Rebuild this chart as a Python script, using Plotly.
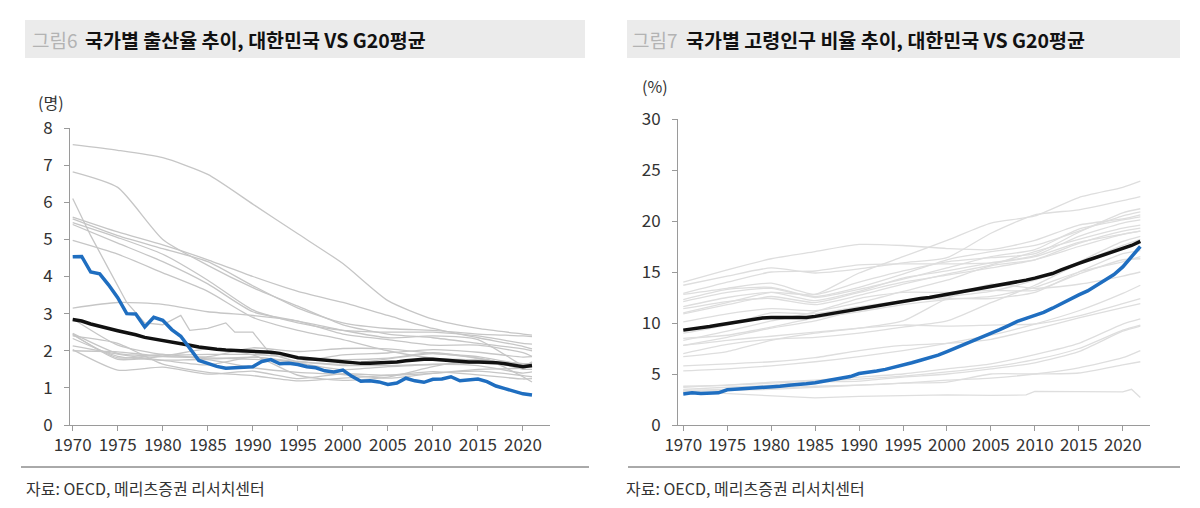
import plotly.graph_objects as go

# ---------------- Left chart: total fertility rate ----------------
KOR_YEARS = list(range(1970, 2022))
KOR_TFR = [4.53, 4.54, 4.12, 4.07, 3.77, 3.43, 3.00, 2.99, 2.64, 2.90,
           2.82, 2.57, 2.39, 2.06, 1.74, 1.66, 1.58, 1.53, 1.55, 1.56,
           1.57, 1.71, 1.76, 1.65, 1.66, 1.63, 1.57, 1.54, 1.46, 1.43,
           1.48, 1.31, 1.18, 1.19, 1.16, 1.09, 1.13, 1.26, 1.19, 1.15,
           1.23, 1.24, 1.30, 1.19, 1.21, 1.24, 1.17, 1.05, 0.98, 0.92,
           0.84, 0.81]
G20_TFR = [2.84, 2.80, 2.72, 2.65, 2.60, 2.54, 2.49, 2.43, 2.36, 2.32,
           2.29, 2.24, 2.19, 2.15, 2.10, 2.06, 2.04, 2.02, 2.01, 2.00,
           2.00, 1.98, 1.96, 1.93, 1.87, 1.81, 1.79, 1.77, 1.74, 1.71,
           1.70, 1.69, 1.66, 1.66, 1.67, 1.68, 1.70, 1.73, 1.76, 1.77,
           1.77, 1.75, 1.72, 1.71, 1.70, 1.70, 1.70, 1.68, 1.65, 1.62,
           1.57, 1.60]

L_YEARS = [1970, 1975, 1980, 1985, 1990, 1995, 2000, 2005, 2010, 2015, 2020, 2021]
SAU_TFR = [7.55, 7.40, 7.20, 6.75, 5.95, 5.15, 4.35, 3.35, 2.85, 2.60, 2.45, 2.42]
MEX_TFR = [6.82, 6.40, 5.00, 4.30, 3.70, 3.20, 2.70, 2.45, 2.35, 2.20, 2.05, 2.00]
IND_TFR = [5.60, 5.20, 4.85, 4.45, 4.00, 3.60, 3.30, 2.95, 2.60, 2.35, 2.12, 2.05]
ZAF_TFR = [5.55, 5.10, 4.75, 4.40, 3.75, 3.15, 2.75, 2.60, 2.55, 2.45, 2.40, 2.38]
IDN_TFR = [5.45, 5.05, 4.60, 3.90, 3.10, 2.75, 2.55, 2.50, 2.50, 2.40, 2.20, 2.18]
TUR_TFR = [5.40, 4.90, 4.40, 3.80, 3.05, 2.80, 2.45, 2.30, 2.15, 2.15, 1.95, 1.85]
BRA_TFR = [4.97, 4.60, 4.10, 3.60, 2.90, 2.55, 2.30, 2.00, 1.80, 1.75, 1.65, 1.64]
ARG_TFR = [3.15, 3.30, 3.25, 3.05, 2.95, 2.80, 2.55, 2.35, 2.40, 2.30, 1.60, 1.55]
AUS_TFR = [2.86, 2.15, 1.90, 1.90, 1.90, 1.82, 1.76, 1.80, 1.95, 1.80, 1.58, 1.70]
USA_TFR = [2.45, 1.77, 1.84, 1.84, 2.08, 1.98, 2.06, 2.05, 1.93, 1.84, 1.64, 1.66]
GBR_TFR = [2.43, 1.81, 1.90, 1.78, 1.83, 1.71, 1.64, 1.78, 1.92, 1.80, 1.56, 1.56]
FRA_TFR = [2.47, 1.93, 1.85, 1.81, 1.77, 1.71, 1.89, 1.94, 2.03, 1.96, 1.83, 1.84]
DEU_TFR = [2.03, 1.48, 1.56, 1.37, 1.45, 1.25, 1.38, 1.34, 1.39, 1.50, 1.53, 1.58]
ITA_TFR = [2.40, 2.20, 1.64, 1.42, 1.33, 1.19, 1.26, 1.34, 1.44, 1.35, 1.24, 1.25]
JPN_TFR = [2.13, 1.91, 1.75, 1.76, 1.54, 1.42, 1.36, 1.26, 1.39, 1.45, 1.33, 1.30]
CAN_TFR = [2.33, 1.85, 1.74, 1.62, 1.83, 1.67, 1.49, 1.57, 1.63, 1.60, 1.40, 1.43]
RUS_TFR = [2.00, 1.97, 1.86, 2.05, 1.89, 1.34, 1.20, 1.29, 1.57, 1.78, 1.50, 1.50]

CHN_YEARS = [1970, 1972, 1974, 1976, 1978, 1980, 1982, 1983, 1985, 1987, 1988,
             1990, 1991, 1992, 1995, 2000, 2005, 2010, 2015, 2016, 2018, 2020, 2021]
CHN_TFR = [6.10, 5.10, 4.20, 3.30, 2.75, 2.70, 2.95, 2.55, 2.60, 2.75, 2.50,
           2.50, 2.20, 1.90, 1.70, 1.60, 1.60, 1.63, 1.67, 1.77, 1.55, 1.30, 1.16]

LEFT_GRAY = [SAU_TFR, MEX_TFR, IND_TFR, ZAF_TFR, IDN_TFR, TUR_TFR, BRA_TFR,
             ARG_TFR, AUS_TFR, USA_TFR, GBR_TFR, FRA_TFR, DEU_TFR, ITA_TFR,
             JPN_TFR, CAN_TFR, RUS_TFR]

# ---------------- Right chart: share of population aged 65+ ----------------
KOR_OLD_YEARS = list(range(1970, 2023))
KOR_OLD = [3.05, 3.15, 3.10, 3.10, 3.15, 3.45, 3.50, 3.55, 3.60, 3.65,
           3.75, 3.80, 3.90, 3.95, 4.05, 4.15, 4.30, 4.40, 4.55, 4.75,
           5.05, 5.15, 5.30, 5.45, 5.65, 5.85, 6.10, 6.35, 6.60, 6.85,
           7.20, 7.55, 7.90, 8.25, 8.60, 8.95, 9.35, 9.75, 10.15, 10.45,
           10.75, 11.05, 11.45, 11.90, 12.35, 12.75, 13.15, 13.70, 14.20, 14.75,
           15.50, 16.50, 17.50]
G20_OLD = [9.30, 9.40, 9.50, 9.65, 9.80, 9.95, 10.10, 10.25, 10.40, 10.50,
           10.55, 10.55, 10.55, 10.50, 10.55, 10.65, 10.80, 10.95, 11.05, 11.20,
           11.35, 11.50, 11.65, 11.80, 11.95, 12.10, 12.25, 12.40, 12.50, 12.65,
           12.80, 12.95, 13.10, 13.25, 13.40, 13.55, 13.75, 13.85, 14.00, 14.20,
           14.40, 14.60, 14.85, 15.20, 15.55, 15.85, 16.15, 16.45, 16.75, 17.00,
           17.30, 17.60, 18.00]

R_YEARS = [1970, 1975, 1980, 1985, 1990, 1995, 2000, 2005, 2010, 2015, 2020, 2022]
OLD_A = [14.0, 15.2, 16.3, 17.0, 17.7, 17.6, 17.3, 17.2, 18.1, 19.6, 20.2, 20.6]
OLD_B = [13.7, 14.6, 15.4, 14.9, 15.3, 15.9, 16.4, 18.8, 20.6, 21.1, 22.0, 22.4]
OLD_C = [11.0, 12.0, 13.0, 12.8, 14.9, 16.5, 18.1, 19.8, 20.5, 22.3, 23.3, 23.9]
OLD_D = [12.9, 14.0, 15.0, 15.1, 15.7, 15.8, 15.8, 15.9, 16.5, 17.9, 18.7, 19.0]
OLD_E = [12.8, 13.4, 13.9, 12.8, 14.0, 15.1, 16.0, 16.4, 16.8, 18.9, 20.8, 21.2]
OLD_F = [12.3, 13.3, 13.5, 12.6, 13.5, 14.8, 16.2, 17.0, 17.6, 19.0, 20.5, 20.9]
OLD_G = [12.1, 13.0, 13.4, 12.5, 13.3, 14.3, 15.4, 16.5, 17.2, 19.2, 20.1, 20.4]
OLD_H = [11.6, 12.5, 13.0, 12.2, 13.1, 14.4, 15.1, 15.9, 16.6, 18.5, 19.8, 20.1]
OLD_I = [11.4, 12.1, 12.4, 11.8, 12.7, 13.8, 14.8, 15.7, 17.0, 18.2, 19.3, 19.6]
OLD_J = [10.9, 11.8, 12.6, 12.0, 13.0, 14.0, 14.7, 15.4, 16.2, 17.8, 19.0, 19.3]
OLD_K = [10.1, 10.9, 11.4, 11.2, 12.0, 13.1, 14.2, 15.6, 16.2, 17.5, 18.7, 19.0]
OLD_L = [9.0, 9.8, 11.0, 10.9, 11.6, 12.2, 12.4, 12.4, 13.0, 15.0, 16.8, 17.1]
OLD_M = [8.3, 9.2, 10.2, 11.1, 12.4, 13.0, 13.0, 13.2, 13.2, 14.8, 16.2, 16.3]
OLD_N = [7.8, 8.6, 9.5, 10.2, 11.3, 12.1, 12.6, 13.1, 14.2, 16.0, 18.0, 18.5]
OLD_O = [7.0, 7.9, 8.4, 8.6, 9.0, 9.6, 10.2, 12.0, 13.7, 15.8, 17.6, 18.2]
OLD_P = [6.7, 7.2, 8.3, 9.0, 9.5, 10.2, 12.4, 13.8, 13.4, 13.8, 14.6, 15.0]
OLD_Q = [8.5, 8.8, 9.6, 10.5, 11.1, 11.8, 12.3, 12.6, 13.5, 15.0, 16.0, 16.5]
OLD_R = [7.8, 8.3, 8.7, 9.1, 9.5, 9.8, 9.7, 9.8, 9.9, 10.7, 11.9, 12.4]
OLD_S = [5.8, 6.0, 6.2, 6.6, 7.3, 7.8, 8.0, 8.4, 9.4, 10.5, 11.5, 11.9]
OLD_T = [5.3, 5.5, 5.8, 6.2, 6.7, 7.3, 8.0, 8.8, 9.9, 11.2, 12.9, 13.7]
OLD_U = [3.8, 3.9, 4.1, 4.3, 4.5, 4.8, 5.2, 5.7, 6.4, 7.5, 9.3, 9.8]
OLD_V = [3.7, 3.9, 4.2, 4.4, 4.7, 5.0, 5.5, 6.0, 6.9, 8.0, 9.9, 10.4]
OLD_W = [3.5, 3.7, 3.9, 4.2, 4.3, 4.7, 5.0, 5.5, 6.1, 7.2, 9.2, 9.7]
OLD_X = [3.4, 3.5, 3.6, 3.8, 3.9, 4.1, 4.4, 4.6, 5.0, 5.6, 6.6, 7.3]
OLD_Y = [3.3, 3.4, 3.5, 3.7, 3.9, 4.1, 4.2, 5.0, 5.0, 5.1, 5.9, 6.2]

SAU_OLD_YEARS = [1970, 1975, 1980, 1985, 1990, 1995, 2000, 2005, 2009, 2010,
                 2015, 2020, 2021, 2022]
SAU_OLD = [3.30, 3.10, 2.85, 2.65, 2.80, 2.90, 2.95, 2.90, 2.95, 3.30,
           3.25, 3.25, 3.50, 2.70]

RIGHT_GRAY = [OLD_A, OLD_B, OLD_C, OLD_D, OLD_E, OLD_F, OLD_G, OLD_H, OLD_I,
              OLD_J, OLD_K, OLD_L, OLD_M, OLD_N, OLD_O, OLD_P, OLD_Q, OLD_R,
              OLD_S, OLD_T, OLD_U, OLD_V, OLD_W, OLD_X, OLD_Y]

X_TICKS = [1970, 1975, 1980, 1985, 1990, 1995, 2000, 2005, 2010, 2015, 2020]
L_YTICKS = [0, 1, 2, 3, 4, 5, 6, 7, 8]
R_YTICKS = [0, 5, 10, 15, 20, 25, 30]

# ---------------- styling ----------------
W, H = 1200, 508
FONT = "Noto Sans CJK KR"
BLUE = "#1f6ec0"
BLACK = "#111111"
GRAY_L = "#c6c6c6"
GRAY_R = "#dedede"
AXIS = "#9a9a9a"


def px(x):
    return x / W


def py(y):
    return 1 - y / H


fig = go.Figure()

for vals in LEFT_GRAY:
    fig.add_trace(go.Scatter(x=L_YEARS, y=vals, mode="lines",
                             line=dict(color=GRAY_L, width=1.3, shape="spline", smoothing=0.6),
                             xaxis="x", yaxis="y"))
fig.add_trace(go.Scatter(x=CHN_YEARS, y=CHN_TFR, mode="lines",
                         line=dict(color=GRAY_L, width=1.3),
                         xaxis="x", yaxis="y"))
fig.add_trace(go.Scatter(x=KOR_YEARS, y=G20_TFR, mode="lines",
                         line=dict(color=BLACK, width=3.5), xaxis="x", yaxis="y"))
fig.add_trace(go.Scatter(x=KOR_YEARS, y=KOR_TFR, mode="lines",
                         line=dict(color=BLUE, width=3.5), xaxis="x", yaxis="y"))

for vals in RIGHT_GRAY:
    fig.add_trace(go.Scatter(x=R_YEARS, y=vals, mode="lines",
                             line=dict(color=GRAY_R, width=1.3, shape="spline", smoothing=0.6),
                             xaxis="x2", yaxis="y2"))
fig.add_trace(go.Scatter(x=SAU_OLD_YEARS, y=SAU_OLD, mode="lines",
                         line=dict(color=GRAY_R, width=1.3),
                         xaxis="x2", yaxis="y2"))
fig.add_trace(go.Scatter(x=KOR_OLD_YEARS, y=KOR_OLD, mode="lines",
                         line=dict(color=BLUE, width=3.5), xaxis="x2", yaxis="y2"))
fig.add_trace(go.Scatter(x=KOR_OLD_YEARS, y=G20_OLD, mode="lines",
                         line=dict(color=BLACK, width=3.5), xaxis="x2", yaxis="y2"))

axis_common = dict(showgrid=False, zeroline=False, showline=True, linecolor=AXIS,
                   linewidth=1, ticks="outside", ticklen=5, tickcolor=AXIS,
                   tickfont=dict(family=FONT, size=17, color="#333333"),
                   fixedrange=True, automargin=False)

fig.update_layout(
    width=W, height=H, autosize=False,
    margin=dict(l=0, r=0, t=0, b=0, pad=0, autoexpand=False),
    paper_bgcolor="white", plot_bgcolor="white",
    showlegend=False, hovermode=False,
    font=dict(family=FONT, color="#333333"),
    xaxis=dict(domain=[px(70), px(550)], range=[1969.7, 2023.0],
               tickvals=X_TICKS, anchor="y", **axis_common),
    yaxis=dict(domain=[py(425), py(128)], range=[0, 8], ticklabelstandoff=8,
               tickvals=L_YTICKS, anchor="x", **axis_common),
    xaxis2=dict(domain=[px(678), px(1150)], range=[1969.4, 2023.1],
                tickvals=X_TICKS, anchor="y2", **axis_common),
    yaxis2=dict(domain=[py(425), py(119)], range=[0, 30], ticklabelstandoff=8,
                tickvals=R_YTICKS, anchor="x2", **axis_common),
)

shapes = [
    dict(type="rect", xref="paper", yref="paper", x0=px(25), x1=px(585),
         y0=py(58), y1=py(20), fillcolor="#ebebeb", line=dict(width=0), layer="below"),
    dict(type="rect", xref="paper", yref="paper", x0=px(627), x1=px(1180),
         y0=py(58), y1=py(20), fillcolor="#ebebeb", line=dict(width=0), layer="below"),
    dict(type="line", xref="paper", yref="paper", x0=px(21), x1=px(589),
         y0=py(467), y1=py(467), line=dict(color="#555555", width=1)),
    dict(type="line", xref="paper", yref="paper", x0=px(628), x1=px(1180),
         y0=py(467), y1=py(467), line=dict(color="#555555", width=1)),
]
fig.update_layout(shapes=shapes)

ann = []


def text(x, y, s, size, color, bold=False, xanchor="left"):
    ann.append(dict(xref="paper", yref="paper", x=px(x), y=py(y), text=(f"<b>{s}</b>" if bold else s),
                    showarrow=False, xanchor=xanchor, yanchor="middle",
                    font=dict(family=FONT, size=size, color=color)))


text(30, 40, "그림6", 19, "#b3b3b3")
text(83, 40, "국가별 출산율 추이, 대한민국 VS G20평균", 19.5, "#111111", bold=True)
text(630, 40, "그림7", 19, "#b3b3b3")
text(684, 40, "국가별 고령인구 비율 추이, 대한민국 VS G20평균", 19.5, "#111111", bold=True)
text(36, 102, "(명)", 16, "#333333")
text(640, 86, "(%)", 16, "#333333")
text(24, 488, "자료: OECD, 메리츠증권 리서치센터", 16, "#333333")
text(624, 488, "자료: OECD, 메리츠증권 리서치센터", 16, "#333333")
fig.update_layout(annotations=ann)

fig.write_html("out.html", config={"responsive": False, "displayModeBar": False},
               post_script="document.body.style.margin='0';document.body.style.overflow='hidden';")
